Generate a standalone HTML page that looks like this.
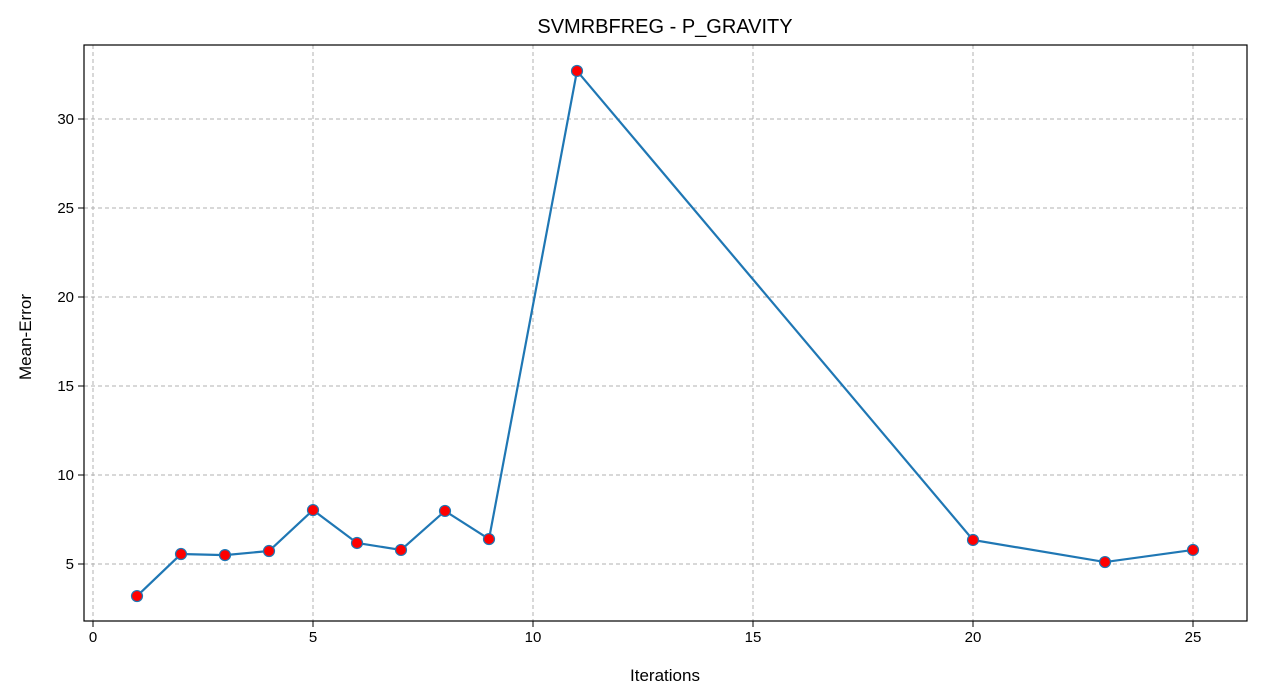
<!DOCTYPE html>
<html><head><meta charset="utf-8">
<style>
html,body{margin:0;padding:0;background:#fff;}
svg{display:block;font-family:"Liberation Sans","DejaVu Sans",sans-serif;}
</style></head>
<body>
<svg id="chart" width="1261" height="700" viewBox="0 0 1261 700">
<rect x="0" y="0" width="1261" height="700" fill="#fff"/>
<g id="grid"></g>
<g id="ticks"></g>
<g id="series"></g>
<rect x="84" y="45" width="1163" height="576" fill="none" stroke="#000" stroke-width="1.2"/>
<text x="665" y="33" text-anchor="middle" font-size="20" fill="#000">SVMRBFREG - P_GRAVITY</text>
<text x="665" y="681" text-anchor="middle" font-size="17" fill="#000">Iterations</text>
<text x="31" y="337" text-anchor="middle" font-size="17" fill="#000" transform="rotate(-90 31 337)">Mean-Error</text>
</svg>
<script>
const iterations = [1,2,3,4,5,6,7,8,9,11,20,23,25];
const meanError = [3.2,5.56,5.5,5.73,8.03,6.18,5.79,7.98,6.4,32.7,6.35,5.11,5.79];
const xTicks = [0,5,10,15,20,25];
const yTicks = [5,10,15,20,25,30];

const NS = "http://www.w3.org/2000/svg";
function xs(v){ return 93 + v*44; }
function ys(v){ return 653 - v*17.8; }
function mk(tag, attrs, parent){
  const e = document.createElementNS(NS, tag);
  for (const k in attrs) e.setAttribute(k, attrs[k]);
  parent.appendChild(e);
  return e;
}
const grid = document.getElementById('grid');
const ticks = document.getElementById('ticks');
const series = document.getElementById('series');

xTicks.forEach(t => {
  const x = xs(t);
  const g = mk('line', {x1:x, x2:x, y1:45, y2:621, stroke:'#b0b0b0', 'stroke-width':1, 'stroke-dasharray':'4,3'}, grid);
  
  
  const tk = mk('line', {x1:x, x2:x, y1:621, y2:627, stroke:'#000', 'stroke-width':1}, ticks);
  
  
  const lb = mk('text', {x:x, y:642, 'text-anchor':'middle', 'font-size':15, fill:'#000'}, ticks);
  lb.textContent = t;
  
  
});
yTicks.forEach(t => {
  const y = ys(t);
  const g = mk('line', {x1:84, x2:1247, y1:y, y2:y, stroke:'#b0b0b0', 'stroke-width':1, 'stroke-dasharray':'4,3'}, grid);
  
  
  const tk = mk('line', {x1:78, x2:84, y1:y, y2:y, stroke:'#000', 'stroke-width':1}, ticks);
  
  
  const lb = mk('text', {x:74, y:y+5, 'text-anchor':'end', 'font-size':15, fill:'#000'}, ticks);
  lb.textContent = t;
  
  
});

const pts = iterations.map((v,i) => xs(v) + ',' + ys(meanError[i])).join(' ');
const line = mk('polyline', {points:pts, fill:'none', stroke:'#1f77b4', 'stroke-width':2.2}, series);


iterations.forEach((v,i) => {
  const c = mk('circle', {cx:xs(v), cy:ys(meanError[i]), r:5.5, fill:'#ff0000', stroke:'#1f77b4', 'stroke-width':1.2}, series);
  
  
});
</script>
</body></html>
